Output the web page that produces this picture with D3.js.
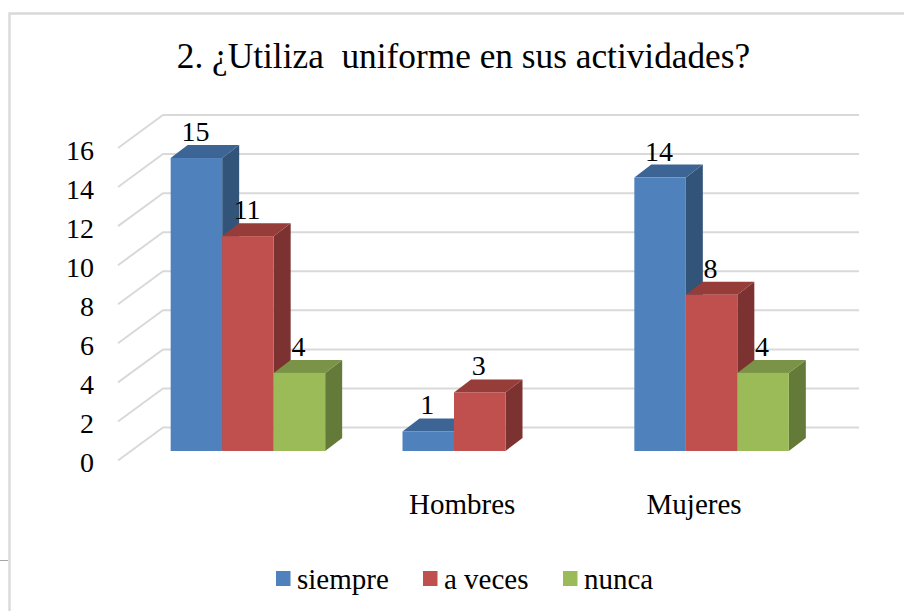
<!DOCTYPE html>
<html><head><meta charset="utf-8">
<script src="https://d3js.org/d3.v7.min.js"></script>
<style>html,body{margin:0;padding:0;background:#fff}svg{display:block}text{font-family:"Liberation Serif",serif;fill:#000}</style>
</head><body><svg id="c" width="904" height="611"></svg>
<script>
const title = "2. ¿Utiliza  uniforme en sus actividades?";
const categories = ["", "Hombres", "Mujeres"];
const seriesNames = ["siempre", "a veces", "nunca"];
const siempre = [15, 1, 14];
const aVeces = [11, 3, 8];
const nunca = [4, null, 4];
const yTicks = [0, 2, 4, 6, 8, 10, 12, 14, 16];
const faceColors = ["#4f81bd", "#c0504d", "#9bbb59"];
const topColors = ["#3c6494", "#963d3a", "#7a9346"];
const sideColors = ["#335479", "#7b3230", "#647a39"];
const allSeries = [siempre, aVeces, nunca];

const svg = d3.select("#c");
const depthX = 17, depthY = 13;
const wallX = 45, wallY = 33;
const yFront = d3.scaleLinear().domain([0, 16]).range([451, 138.5]);
const yBack = d3.scaleLinear().domain([0, 16]).range([427.5, 115]);
const x0 = d3.scaleBand().domain(d3.range(categories.length)).range([132, 827.5]);
const barW = 51.5;
const groupLeft = i => x0(i) + (x0.bandwidth() - barW * 3) / 2;

// frame
const frame = svg.append("g").attr("stroke", "#d9d9d9").attr("stroke-width", 2.4).attr("fill", "none");
frame.append("path").attr("d", "M9.5 611V13.5H904");
svg.append("path").attr("d", "M0 560.5H8").attr("stroke", "#a6a6a6").attr("stroke-width", 1);

// title
svg.append("text").attr("x", 463.5).attr("y", 68).attr("text-anchor", "middle")
  .attr("font-size", 35.3).style("white-space", "pre").attr("xml:space", "preserve").text(title);

// grid on the back and side walls
const grid = svg.append("g").attr("stroke", "#d9d9d9").attr("stroke-width", 2).attr("fill", "none");
yTicks.forEach(t => {
  const yb = yBack(t);
  grid.append("path").attr("d", d3.line()([[163 - wallX, yb + wallY], [163, yb], [859, yb]]));
});

// value axis labels
svg.append("g").selectAll("text").data(yTicks).join("text")
  .attr("x", 94).attr("y", d => yBack(d) + wallY + 11.5).attr("text-anchor", "end")
  .attr("font-size", 28).text(d => d);

// bars, drawn left to right so that each one hides the side of the previous one
const bars = svg.append("g");
const labels = svg.append("g");
categories.forEach((c, i) => {
  allSeries.forEach((s, k) => {
    const v = s[i];
    if (v == null) return;
    const x = groupLeft(i) + k * barW, w = barW, y = yFront(v), b = yFront(0);
    const g = bars.append("g");
    g.append("path").attr("fill", sideColors[k])
      .attr("d", d3.line()([[x + w, y], [x + w + depthX, y - depthY], [x + w + depthX, b - depthY], [x + w, b]]) + "Z");
    g.append("path").attr("fill", topColors[k])
      .attr("d", d3.line()([[x, y], [x + depthX, y - depthY], [x + w + depthX, y - depthY], [x + w, y]]) + "Z");
    g.append("rect").attr("x", x).attr("y", y).attr("width", w).attr("height", b - y).attr("fill", faceColors[k]);
    labels.append("text").attr("x", x + w / 2 - 1).attr("y", y - 17).attr("text-anchor", "middle")
      .attr("font-size", 28).text(v);
  });
});

// category labels
svg.append("g").selectAll("text").data(categories).join("text")
  .attr("x", (d, i) => groupLeft(i) + barW * 1.5 - 17.5).attr("y", 514).attr("text-anchor", "middle")
  .attr("font-size", 29).text(d => d);

// legend
const legendSwatchX = [276, 423, 563];
const legend = svg.append("g");
seriesNames.forEach((n, k) => {
  legend.append("rect").attr("x", legendSwatchX[k]).attr("y", 571).attr("width", 14.5).attr("height", 15).attr("fill", faceColors[k]);
  legend.append("text").attr("x", legendSwatchX[k] + 21).attr("y", 589).attr("font-size", 29).text(n);
});
</script></body></html>
